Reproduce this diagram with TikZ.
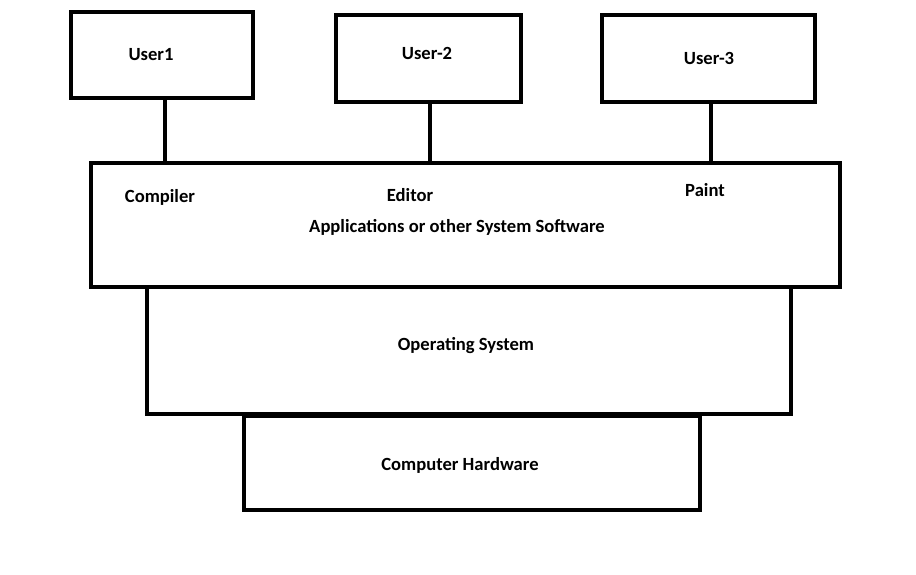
\documentclass[tikz,border=0pt]{standalone}
\usepackage{fontspec}
\setmainfont{Carlito}
\usetikzlibrary{positioning, calc}

\begin{document}
\begin{tikzpicture}[x=1pt, y=-1pt, box/.style={draw, line width=4pt, inner sep=0pt}, lbl/.style={font=\bfseries\fontsize{18.6}{20}\selectfont}, link/.style={line width=4pt}]

	\useasboundingbox (0,0) rectangle (916,574);

	% users
	\node[box, minimum width=182, minimum height=86] (u1) at (162,55) {};
	\node[box, minimum width=185, minimum height=87] (u2) at (428.5,58.5) {};
	\node[box, minimum width=213, minimum height=87] (u3) at (708.5,58.5) {};
	\node[lbl] at (151,55) {User1};
	\node[lbl] at (427,53) {User-2};
	\node[lbl] at (709,58) {User-3};

	% layers
	\node[box, minimum width=749, minimum height=124] (apps) at (465.5,225) {};
	\node[box, minimum width=644, minimum height=127] (os) at (469,350.5) {};
	\node[box, minimum width=456, minimum height=94] (hw) at (472,463) {};

	\node[lbl] at (160,197) {Compiler};
	\node[lbl] at (410,195) {Editor};
	\node[lbl] at (705,190) {Paint};
	\node[lbl] at (457,227) {Applications or other System Software};
	\node[lbl] at (466,346) {Operating System};
	\node[lbl] at (460,465) {Computer Hardware};

	\foreach \u/\x in {u1/165, u2/430, u3/711} {
		\draw[link] (\x,0 |- \u.south) -- (\x,0 |- apps.north);
	}

\end{tikzpicture}
\end{document}
